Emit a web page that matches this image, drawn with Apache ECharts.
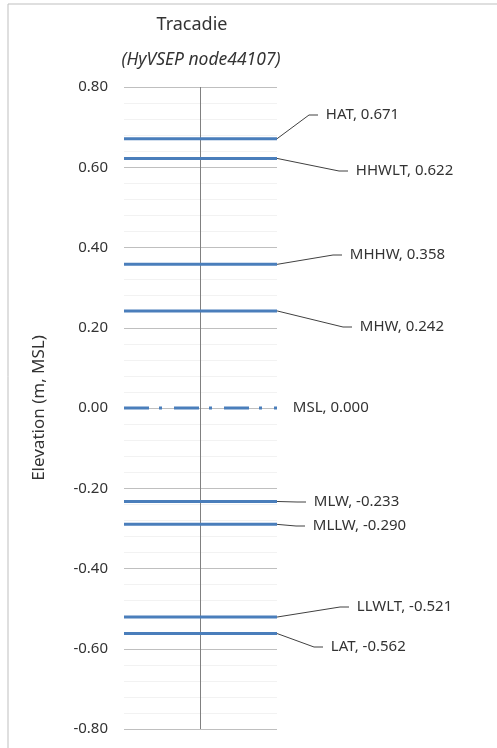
<!DOCTYPE html>
<html>
<head>
<meta charset="utf-8">
<title>Tracadie</title>
<script src="https://cdn.jsdelivr.net/npm/echarts@6/dist/echarts.min.js"></script>
<style>
  html, body { margin: 0; padding: 0; background: #fff; }
  #chart { width: 497px; height: 748px; }
</style>
</head>
<body>
<div id="chart"></div>
<script>
// tidal datums, elevation in m relative to MSL
const levelNames = ['HAT', 'HHWLT', 'MHHW', 'MHW', 'MSL', 'MLW', 'MLLW', 'LLWLT', 'LAT']
const levelValues = [0.671, 0.622, 0.358, 0.242, 0.000, -0.233, -0.290, -0.521, -0.562]
const xExtent = [-1, 1]
const yTicks = [-0.8, -0.6, -0.4, -0.2, 0, 0.2, 0.4, 0.6, 0.8]

// where Excel put the data label text (left edge, middle), px
const labelSpots = [
  [326, 115], [356, 171], [350, 255], [360, 327], [293, 408],
  [314, 502], [313, 526], [357, 607], [331, 647]
]
// two leading spaces keep the leader line off the text, like Excel does
const lead = '  '
const leadWidth = 8

const font = '"Noto Sans", sans-serif'
const blue = '#4a7ebb'

const chart = echarts.init(document.getElementById('chart'))

const series = levelNames.map((name, i) => {
  const v = levelValues[i]
  const isMsl = name === 'MSL'
  return {
    name: name,
    type: 'line',
    data: [
      [xExtent[0], v],
      {
        value: [xExtent[1], v],
        label: {
          show: true,
          formatter: lead + name + ', ' + v.toFixed(3)
        }
      }
    ],
    symbol: 'circle',
    symbolSize: 0.1,
    showSymbol: true,
    z: 3,
    lineStyle: {
      color: blue,
      width: 3,
      type: isMsl ? [25, 10, 3, 12] : 'solid',
      cap: 'butt'
    },
    itemStyle: { color: blue },
    label: {
      show: false,
      position: 'right',
      distance: 0,
      color: '#333333',
      fontFamily: font,
      fontSize: 15
    },
    labelLayout: function () {
      return {
        x: labelSpots[i][0] - leadWidth,
        y: labelSpots[i][1],
        align: 'left',
        verticalAlign: 'middle'
      }
    },
    labelLine: {
      show: !isMsl,
      length2: 9,
      lineStyle: { color: '#404040', width: 1 }
    },
    silent: true,
    animation: false
  }
})

// vertical axis line through x = 0
series[0].markLine = {
  silent: true,
  symbol: 'none',
  label: { show: false },
  lineStyle: { color: '#808080', width: 1, type: 'solid' },
  data: [{ xAxis: 0 }],
  z: 2
}

chart.setOption({
  animation: false,
  graphic: [{
    type: 'rect',
    shape: { x: 8, y: 4, width: 600, height: 800 },
    style: { fill: 'none', stroke: '#bfbfbf', lineWidth: 1 },
    silent: true
  }],
  title: [{
    text: 'Tracadie',
    left: 187,
    top: 11,
    textAlign: 'center',
    textStyle: { color: '#333333', fontFamily: font, fontSize: 18, fontWeight: 'normal' }
  }, {
    text: '(HyVSEP node44107)',
    left: 196,
    top: 46,
    textAlign: 'center',
    textStyle: { color: '#333333', fontFamily: font, fontSize: 17.5, fontStyle: 'italic', fontWeight: 'normal' }
  }],
  grid: { left: 124, right: 220, top: 87, bottom: 19, containLabel: false },
  xAxis: {
    type: 'value',
    min: xExtent[0],
    max: xExtent[1],
    show: false
  },
  yAxis: {
    type: 'value',
    min: yTicks[0],
    max: yTicks[yTicks.length - 1],
    interval: 0.2,
    name: 'Elevation (m, MSL)',
    nameLocation: 'middle',
    nameGap: 76,
    nameTextStyle: { color: '#333333', fontFamily: font, fontSize: 17 },
    axisLine: { show: false },
    axisTick: { show: false },
    axisLabel: {
      margin: 16,
      color: '#333333',
      fontFamily: font,
      fontSize: 15,
      formatter: v => v.toFixed(2)
    },
    splitLine: { lineStyle: { color: '#bfbfbf', width: 1 } },
    minorTick: { show: false, splitNumber: 5 },
    minorSplitLine: { show: true, lineStyle: { color: '#f2f2f2', width: 1 } }
  },
  series: series
})
</script>
</body>
</html>
